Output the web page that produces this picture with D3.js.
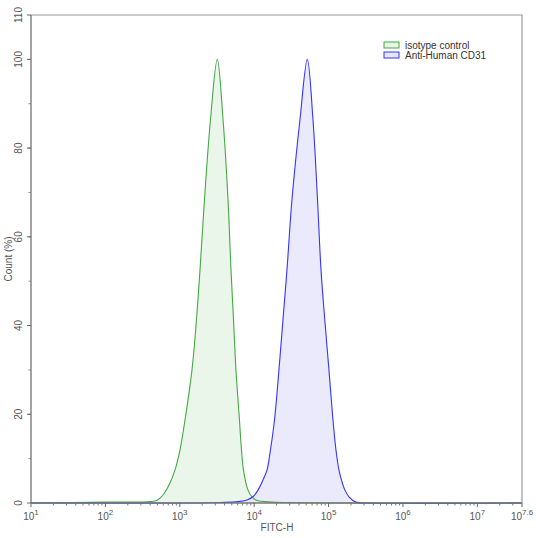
<!DOCTYPE html>
<html>
<head>
<meta charset="utf-8">
<script src="https://cdn.jsdelivr.net/npm/d3@7"></script>
<style>
body { margin: 0; background: #fff; }
text { font-family: "Liberation Sans", Arial, sans-serif; fill: #555; }
</style>
</head>
<body>
<svg></svg>
<script>
const width = 536;
const height = 538;
const margin = {top: 15, right: 14, bottom: 35, left: 31};

// log10(FITC-H) positions and count (%)
const isotypeLog = [1.0, 2.0, 2.47, 2.6, 2.694, 2.774, 2.86, 2.935, 3.003, 3.07, 3.164, 3.224, 3.272, 3.332, 3.413, 3.504, 3.581, 3.648, 3.688, 3.722, 3.755, 3.802, 3.829, 3.856, 3.917, 3.97, 4.024, 4.145, 4.481, 5.0, 7.6];
const isotypeCount = [0, 0.2, 0.2, 0.3, 0.6, 1.8, 4.2, 7.4, 12, 18.7, 30, 41.3, 52.6, 68.4, 86.5, 100, 86.5, 68.4, 52.6, 41.3, 30, 18.7, 12, 7.4, 2.9, 1.4, 0.7, 0.3, 0.1, 0, 0];
const cd31Log = [1.0, 3.272, 3.54, 3.782, 3.903, 3.984, 4.051, 4.118, 4.172, 4.219, 4.273, 4.333, 4.387, 4.441, 4.508, 4.616, 4.714, 4.79, 4.851, 4.898, 4.949, 5.005, 5.059, 5.099, 5.14, 5.173, 5.22, 5.274, 5.368, 5.556, 7.6];
const cd31Count = [0, 0, 0.1, 0.3, 0.7, 1.4, 2.9, 5.2, 7.4, 12, 18.7, 30, 41.3, 52.6, 68.4, 86.5, 100, 86.5, 68.4, 52.6, 41.3, 30, 18.7, 12, 7.4, 5.2, 2.9, 1.4, 0.2, 0, 0];

const seriesNames = ["isotype control", "Anti-Human CD31"];
const strokeColors = ["#45a845", "#3535f5"];
const fillColors = ["#e8f4e8", "#e6e6fc"];
const xMajor = [1, 2, 3, 4, 5, 6, 7, 7.6];
const yTicks = [0, 20, 40, 60, 80, 100, 110];

const svg = d3.select('svg')
    .attr('width', width).attr('height', height);

const x = d3.scaleLog()
    .domain([10, Math.pow(10, 7.6)])
    .range([margin.left, width - margin.right]);
const y = d3.scaleLinear()
    .domain([0, 110])
    .range([height - margin.bottom, margin.top]);

const series = [
    isotypeLog.map((v, i) => ({x: Math.pow(10, v), y: isotypeCount[i]})),
    cd31Log.map((v, i) => ({x: Math.pow(10, v), y: cd31Count[i]}))
];

const area = d3.area()
    .x(d => x(d.x)).y0(y(0)).y1(d => y(d.y))
    .curve(d3.curveCatmullRom.alpha(0.5));
const line = d3.line()
    .x(d => x(d.x)).y(d => y(d.y))
    .curve(d3.curveCatmullRom.alpha(0.5));

series.forEach((s, i) => {
    svg.append('path')
        .datum(s)
        .attr('d', area)
        .style('fill', fillColors[i])
        .style('opacity', 0.85);
});
series.forEach((s, i) => {
    svg.append('path')
        .datum(s)
        .attr('d', line)
        .style('fill', 'none')
        .style('stroke', strokeColors[i])
        .style('stroke-width', 1.1);
});

// frame
const x0 = x.range()[0], x1 = x.range()[1];
const yb = y(0), yt = y(110);
svg.append('path')
    .attr('d', `M${x0},${yt}H${x1}V${yb}`)
    .style('fill', 'none').style('stroke', '#999').style('stroke-width', 1.2);
svg.append('line')
    .attr('x1', x0).attr('x2', x1).attr('y1', yb).attr('y2', yb)
    .style('stroke', '#777').style('stroke-width', 1.5);
svg.append('line')
    .attr('x1', x0).attr('x2', x0).attr('y1', yt).attr('y2', yb)
    .style('stroke', '#666').style('stroke-width', 1.2);

// x ticks (major + log minor)
const minorX = [];
for (let d = 1; d < 8; d++) {
    for (let k = 2; k <= 9; k++) {
        const v = d + Math.log10(k);
        if (v < 7.6) minorX.push(v);
    }
}
svg.selectAll('.xminor')
    .data(minorX).enter().append('line')
    .attr('x1', d => x(Math.pow(10, d))).attr('x2', d => x(Math.pow(10, d)))
    .attr('y1', yb).attr('y2', yb + 2.5)
    .style('stroke', '#777');
svg.selectAll('.xmajor')
    .data(xMajor).enter().append('line')
    .attr('x1', d => x(Math.pow(10, d))).attr('x2', d => x(Math.pow(10, d)))
    .attr('y1', yb).attr('y2', yb + 4)
    .style('stroke', '#666');

const xLabels = svg.selectAll('.xlabel')
    .data(xMajor).enter().append('text')
    .attr('x', d => x(Math.pow(10, d)))
    .attr('y', yb + 17)
    .attr('text-anchor', 'middle')
    .style('font-size', '10px');
xLabels.append('tspan').text('10');
xLabels.append('tspan')
    .attr('dy', -5)
    .style('font-size', '8px')
    .text(d => d);

// y ticks
const minorY = d3.range(10, 110, 10);
svg.selectAll('.yminor')
    .data(minorY).enter().append('line')
    .attr('x1', x0 - 2.5).attr('x2', x0)
    .attr('y1', d => y(d)).attr('y2', d => y(d))
    .style('stroke', '#888');
svg.selectAll('.ymajor')
    .data(yTicks).enter().append('line')
    .attr('x1', x0 - 4).attr('x2', x0)
    .attr('y1', d => y(d)).attr('y2', d => y(d))
    .style('stroke', '#666');
svg.selectAll('.ylabel')
    .data(yTicks).enter().append('text')
    .attr('transform', d => `translate(${x0 - 9},${y(d)}) rotate(-90)`)
    .attr('text-anchor', 'middle')
    .style('font-size', '10px')
    .text(d => d);

// axis titles
svg.append('text')
    .attr('transform', `translate(12,${(yt + yb) / 2}) rotate(-90)`)
    .attr('text-anchor', 'middle')
    .style('font-size', '10px')
    .text('Count (%)');
svg.append('text')
    .attr('x', 277).attr('y', 531)
    .attr('text-anchor', 'middle')
    .style('font-size', '10px')
    .text('FITC-H');

// legend
const legend = svg.append('g').attr('transform', 'translate(384,42)');
seriesNames.forEach((name, i) => {
    const g = legend.append('g').attr('transform', `translate(0,${i * 10})`);
    g.append('rect')
        .attr('x', 0).attr('y', 0).attr('width', 15).attr('height', 6)
        .style('fill', fillColors[i]).style('stroke', strokeColors[i]).style('stroke-width', 1);
    g.append('text')
        .attr('x', 21).attr('y', 7)
        .style('font-size', '10px')
        .style('fill', '#333')
        .text(name);
});
</script>
</body>
</html>
